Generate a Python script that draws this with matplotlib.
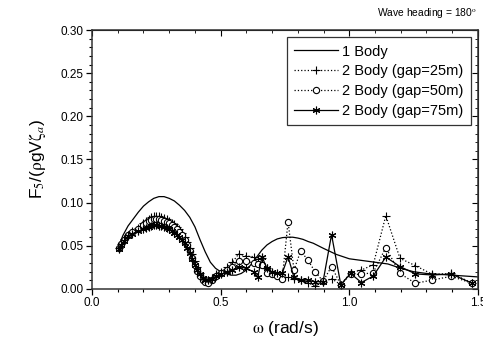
import numpy as np
import matplotlib
matplotlib.use("Agg")
import matplotlib.pyplot as plt
from matplotlib.ticker import MultipleLocator

plt.rcParams['font.family'] = ['Liberation Sans', 'DejaVu Sans']
plt.rcParams['mathtext.fontset'] = 'stix'

# 1 body curve
w_one = [0.10, 0.12, 0.14, 0.16, 0.18, 0.20, 0.22, 0.24, 0.26, 0.28, 0.30, 0.32, 0.34, 0.36,
         0.38, 0.40, 0.42, 0.44, 0.46, 0.48, 0.50, 0.52, 0.54, 0.56, 0.58, 0.60, 0.62, 0.64,
         0.66, 0.68, 0.70, 0.72, 0.74, 0.76, 0.78, 0.80, 0.82, 0.84, 0.86, 0.88, 0.90, 0.95,
         1.00, 1.05, 1.10, 1.15, 1.20, 1.25, 1.30, 1.35, 1.40, 1.45, 1.50]
f_one = [0.047, 0.062, 0.073, 0.081, 0.089, 0.096, 0.101, 0.105, 0.107, 0.107, 0.105, 0.102, 0.097, 0.091,
         0.083, 0.072, 0.057, 0.043, 0.031, 0.024, 0.020, 0.018, 0.016, 0.016, 0.018, 0.022, 0.029, 0.037,
         0.045, 0.051, 0.055, 0.058, 0.0595, 0.060, 0.060, 0.059, 0.0575, 0.055, 0.053, 0.050, 0.047, 0.040,
         0.035, 0.033, 0.031, 0.029, 0.024, 0.020, 0.018, 0.017, 0.016, 0.015, 0.014]

# 2 body frequencies
w_two = [0.105, 0.114, 0.126, 0.140, 0.157, 0.180,
         0.20, 0.21, 0.22, 0.23, 0.24, 0.25, 0.26, 0.27, 0.28, 0.29, 0.30, 0.31, 0.32,
         0.33, 0.34, 0.35, 0.36, 0.37, 0.38, 0.39, 0.40, 0.41, 0.42, 0.43, 0.44, 0.45,
         0.465, 0.483, 0.503, 0.524, 0.546, 0.571, 0.598, 0.628, 0.644, 0.661, 0.679,
         0.698, 0.718, 0.739, 0.762, 0.785, 0.811, 0.838, 0.867, 0.898, 0.931, 0.967,
         1.005, 1.047, 1.093, 1.142, 1.197, 1.257, 1.323, 1.396, 1.478]

gap25 = [0.047, 0.052, 0.058, 0.063, 0.067, 0.071,
         0.076, 0.079, 0.081, 0.083, 0.084, 0.084, 0.084, 0.083, 0.082, 0.081, 0.079, 0.077, 0.075,
         0.072, 0.069, 0.065, 0.060, 0.054, 0.047, 0.040, 0.032, 0.025, 0.019, 0.014, 0.011, 0.010,
         0.013, 0.017, 0.020, 0.025, 0.031, 0.041, 0.038, 0.0375, 0.035, 0.036, 0.024,
         0.019, 0.017, 0.014, 0.0135, 0.012, 0.010, 0.0073, 0.0035, 0.008, 0.012, 0.005,
         0.019, 0.022, 0.028, 0.085, 0.0355, 0.027, 0.017, 0.018, 0.007]

gap50 = [0.047, 0.052, 0.057, 0.062, 0.066, 0.070,
         0.074, 0.077, 0.079, 0.080, 0.081, 0.081, 0.081, 0.080, 0.079, 0.078, 0.076, 0.074, 0.072,
         0.069, 0.066, 0.062, 0.057, 0.051, 0.044, 0.036, 0.028, 0.021, 0.015, 0.010, 0.008, 0.007,
         0.010, 0.015, 0.018, 0.022, 0.026, 0.033, 0.032, 0.030, 0.029, 0.028, 0.018,
         0.017, 0.015, 0.0112, 0.078, 0.022, 0.044, 0.034, 0.020, 0.009, 0.026, 0.005,
         0.017, 0.017, 0.019, 0.048, 0.018, 0.0066, 0.0104, 0.0147, 0.0066]

gap75 = [0.046, 0.051, 0.056, 0.061, 0.064, 0.067,
         0.069, 0.071, 0.072, 0.073, 0.074, 0.074, 0.073, 0.073, 0.072, 0.071, 0.069, 0.067, 0.065,
         0.063, 0.060, 0.057, 0.053, 0.048, 0.042, 0.035, 0.028, 0.022, 0.017, 0.013, 0.011, 0.011,
         0.012, 0.015, 0.017, 0.020, 0.022, 0.026, 0.024, 0.020, 0.0135, 0.0375, 0.024,
         0.020, 0.019, 0.018, 0.0375, 0.0135, 0.011, 0.0104, 0.0085, 0.0085, 0.063, 0.005,
         0.018, 0.0075, 0.015, 0.037, 0.026, 0.0175, 0.0162, 0.0174, 0.0066]

fig = plt.figure(figsize=(4.83, 3.39), dpi=100)
ax = fig.add_axes([0.1905, 0.1475, 0.799, 0.764])

ax.plot(w_one, f_one, '-', color='black', lw=0.9, label='1 Body')
ax.plot(w_two, gap25, ':', color='black', lw=0.9, marker='+', ms=5.5, mew=0.8,
        label='2 Body (gap=25m)')
ax.plot(w_two, gap50, ':', color='black', lw=0.9, marker='o', ms=4.5, mew=0.8,
        mfc='white', label='2 Body (gap=50m)')
ax.plot(w_two, gap75, '-', color='black', lw=0.9, marker=(6, 2, 0), ms=5.5, mew=0.8,
        label='2 Body (gap=75m)')

ax.set_xlim(0, 1.5)
ax.set_ylim(0, 0.30)
ax.xaxis.set_major_locator(MultipleLocator(0.5))
ax.xaxis.set_minor_locator(MultipleLocator(0.1))
ax.yaxis.set_major_locator(MultipleLocator(0.05))
ax.yaxis.set_minor_locator(MultipleLocator(0.01))
ax.xaxis.set_major_formatter(plt.FormatStrFormatter('%.1f'))
ax.yaxis.set_major_formatter(plt.FormatStrFormatter('%.2f'))
ax.tick_params(which='major', direction='out', length=4, width=0.9, labelsize=8.5, pad=2)
ax.tick_params(which='minor', direction='out', length=2.5, width=0.8)
for s in ax.spines.values():
    s.set_linewidth(1.1)
    s.set_color('#333333')

# mirror ticks on top and right, pointing inward
top = ax.secondary_xaxis('top')
top.xaxis.set_major_locator(MultipleLocator(0.5))
top.xaxis.set_minor_locator(MultipleLocator(0.1))
top.tick_params(which='major', direction='in', length=4, labeltop=False)
top.tick_params(which='minor', direction='in', length=2.5)
right = ax.secondary_yaxis('right')
right.yaxis.set_major_locator(MultipleLocator(0.05))
right.yaxis.set_minor_locator(MultipleLocator(0.01))
right.tick_params(which='major', direction='in', length=4, labelright=False)
right.tick_params(which='minor', direction='in', length=2.5)

ax.set_xlabel(r'$\mathrm{\omega}$ (rad/s)', fontsize=12.5, labelpad=7)
ax.set_ylabel(r'F$_5$/($\mathrm{\rho}$gV$\mathrm{\zeta}_a$)', fontsize=12.5, labelpad=9)

leg = ax.legend(loc='upper right', fontsize=10.5, frameon=True, fancybox=False,
                edgecolor='black', handlelength=3.0, handletextpad=0.3,
                borderaxespad=0.5, labelspacing=0.4, borderpad=0.5)
leg.get_frame().set_linewidth(0.9)

fig.text(0.988, 0.94, 'Wave heading = 180$^{\\mathrm{o}}$', ha='right', va='bottom', fontsize=7.4)

fig.savefig('out.png', dpi=100)
